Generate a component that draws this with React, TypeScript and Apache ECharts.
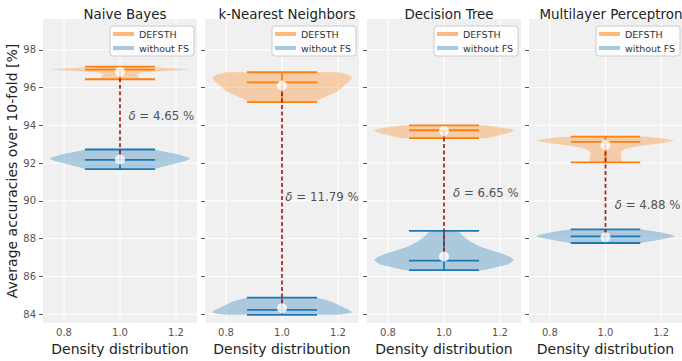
import React, { useEffect, useRef } from "react";
import * as echarts from "echarts";

const panelTitles = ["Naive Bayes", "k-Nearest Neighbors", "Decision Tree", "Multilayer Perceptron"];
const yTicks = [84, 86, 88, 90, 92, 94, 96, 98];
const xTicks = [0.8, 1.0, 1.2];
const seriesNames = ["DEFSTH", "without FS"];

// violin outlines: [accuracy, half-width of density]
const defsthProfiles: number[][][] = [
  [[97.11, 0.05], [97.06, 0.13], [97.0, 0.21], [96.95, 0.25], [96.9, 0.2], [96.85, 0.12], [96.8, 0.075], [96.72, 0.062], [96.62, 0.062], [96.52, 0.068], [96.44, 0.065]],
  [[96.81, 0.2], [96.7, 0.23], [96.55, 0.25], [96.4, 0.245], [96.2, 0.23], [96.0, 0.215], [95.8, 0.2], [95.6, 0.17], [95.45, 0.145], [95.23, 0.12]],
  [[94.0, 0.15], [93.9, 0.2], [93.8, 0.24], [93.72, 0.25], [93.6, 0.23], [93.45, 0.19], [93.32, 0.15]],
  [[93.4, 0.15], [93.3, 0.21], [93.18, 0.25], [93.05, 0.2], [92.95, 0.14], [92.85, 0.1], [92.75, 0.07], [92.6, 0.055], [92.4, 0.055], [92.2, 0.058], [92.04, 0.06]],
];
const withoutProfiles: number[][][] = [
  [[92.72, 0.12], [92.6, 0.16], [92.45, 0.21], [92.3, 0.245], [92.22, 0.25], [92.1, 0.23], [91.95, 0.19], [91.8, 0.15], [91.68, 0.12]],
  [[84.88, 0.12], [84.78, 0.15], [84.65, 0.18], [84.5, 0.2], [84.35, 0.22], [84.22, 0.24], [84.1, 0.25], [84.03, 0.23], [83.97, 0.2]],
  [[88.41, 0.05], [88.2, 0.065], [88.0, 0.08], [87.8, 0.1], [87.6, 0.125], [87.4, 0.165], [87.2, 0.21], [87.0, 0.24], [86.85, 0.25], [86.65, 0.23], [86.5, 0.19], [86.33, 0.14]],
  [[88.49, 0.13], [88.35, 0.19], [88.2, 0.24], [88.1, 0.25], [87.95, 0.2], [87.77, 0.125]],
];
// [min, median, max]
const defsthStats = [[96.44, 96.95, 97.11], [95.23, 96.28, 96.81], [93.32, 93.74, 94.0], [92.04, 93.12, 93.4]];
const withoutStats = [[91.68, 92.17, 92.72], [83.97, 84.23, 84.88], [86.33, 86.84, 88.41], [87.77, 88.12, 88.49]];
const defsthMeans = [96.84, 96.11, 93.7, 92.96];
const withoutMeans = [92.19, 84.32, 87.05, 88.08];
const deltas = ["4.65", "11.79", "6.65", "4.88"];
// where each delta annotation is anchored: [x, y]
const deltaLabelAt = [[1.03, 94.52], [1.012, 90.2], [1.032, 90.42], [1.033, 89.8]];

const ORANGE = "#ff7f0e";
const BLUE = "#1f77b4";
const FONT = "DejaVu Sans";

const panelLeft = [43, 205, 367, 529];
const panelWidth = 154;
const panelTop = 19;
const panelHeight = 306;

function violin(i: number, name: string, profile: number[][], fill: string) {
  return {
    type: "custom",
    name,
    xAxisIndex: i,
    yAxisIndex: i,
    z: 2,
    silent: true,
    itemStyle: { color: fill },
    data: [[1]],
    renderItem: (params: any, api: any) => {
      const pos = api.value(0);
      const pts: number[][] = [];
      for (const [v, w] of profile) pts.push(api.coord([pos + w, v]));
      for (let k = profile.length - 1; k >= 0; k--) pts.push(api.coord([pos - profile[k][1], profile[k][0]]));
      return { type: "polygon", shape: { points: pts }, style: { fill } };
    },
  };
}

function extrema(i: number, stats: number[], color: string) {
  return {
    type: "custom",
    xAxisIndex: i,
    yAxisIndex: i,
    z: 3,
    silent: true,
    data: [[1, ...stats]],
    renderItem: (params: any, api: any) => {
      const pos = api.value(0);
      const children: any[] = [];
      for (const d of [1, 2, 3]) {
        const v = api.value(d);
        const a = api.coord([pos - 0.125, v]);
        const b = api.coord([pos + 0.125, v]);
        children.push({ type: "line", shape: { x1: a[0], y1: a[1], x2: b[0], y2: b[1] }, style: { stroke: color, lineWidth: 1.8 } });
      }
      const lo = api.coord([pos, api.value(1)]);
      const hi = api.coord([pos, api.value(3)]);
      children.push({ type: "line", shape: { x1: lo[0], y1: lo[1], x2: hi[0], y2: hi[1] }, style: { stroke: color, lineWidth: 1.8 } });
      return { type: "group", children };
    },
  };
}

function gridLines(i: number) {
  return {
    type: "custom",
    xAxisIndex: i,
    yAxisIndex: i,
    z: 1,
    silent: true,
    data: [[0]],
    renderItem: (params: any, api: any) => {
      const children: any[] = [];
      for (const x of xTicks) {
        const a = api.coord([x, 83.53]);
        const b = api.coord([x, 99.63]);
        children.push({ type: "line", shape: { x1: a[0], y1: a[1], x2: b[0], y2: b[1] }, style: { stroke: "#ffffff", lineWidth: 1 } });
      }
      for (const y of yTicks) {
        const a = api.coord([0.725, y]);
        const b = api.coord([1.275, y]);
        children.push({ type: "line", shape: { x1: a[0], y1: a[1], x2: b[0], y2: b[1] }, style: { stroke: "#ffffff", lineWidth: 1 } });
      }
      return { type: "group", children };
    },
  };
}

export default function App() {
  const ref = useRef<HTMLDivElement>(null);
  useEffect(() => {
    if (!ref.current) return;
    const chart = echarts.init(ref.current, null, { renderer: "svg" });
    const grid = panelTitles.map((_, i) => ({
      left: panelLeft[i],
      top: panelTop,
      width: panelWidth,
      height: panelHeight,
      show: true,
      backgroundColor: "#f0f0f0",
      borderWidth: 0,
    }));
    const xAxis = panelTitles.map((_, i) => ({
      type: "value",
      gridIndex: i,
      min: 0.725,
      max: 1.275,
      axisLine: { show: false },
      axisTick: { show: false },
      splitLine: { show: false },
      axisLabel: {
        customValues: xTicks,
        formatter: (v: number) => v.toFixed(1),
        color: "#555",
        fontSize: 10,
        fontFamily: FONT,
        margin: 4,
      },
      name: "Density distribution",
      nameLocation: "middle",
      nameGap: 12,
      nameTextStyle: { fontSize: 14, fontFamily: FONT, color: "#222", verticalAlign: "top" },
    }));
    const yAxis = panelTitles.map((_, i) => ({
      type: "value",
      gridIndex: i,
      min: 83.53,
      max: 99.63,
      axisLine: { show: false },
      axisTick: { show: true, customValues: yTicks, length: 4, lineStyle: { color: "#555" } },
      splitLine: { show: false },
      axisLabel: {
        show: i === 0,
        customValues: yTicks,
        color: "#555",
        fontSize: 10,
        fontFamily: FONT,
        margin: 7,
      },
      name: i === 0 ? "Average accuracies over 10-fold [%]" : "",
      nameLocation: "middle",
      nameRotate: 90,
      nameGap: 23,
      nameTextStyle: { fontSize: 14, fontFamily: FONT, color: "#222" },
    }));
    const title = panelTitles.map((t, i) => ({
      text: t,
      left: panelLeft[i] + panelWidth / 2,
      textAlign: "center",
      top: 3,
      textStyle: { fontSize: 13.4, fontWeight: "normal", fontFamily: FONT, color: "#222" },
    }));
    const legend = panelTitles.map((_, i) => ({
      left: panelLeft[i] + panelWidth - 87,
      top: 26,
      orient: "vertical",
      icon: "rect",
      itemWidth: 21,
      itemHeight: 4,
      itemGap: 4,
      padding: [3, 5, 3, 3],
      backgroundColor: "rgba(255,255,255,0.85)",
      borderColor: "#cccccc",
      borderWidth: 1,
      borderRadius: 3,
      selectedMode: false,
      textStyle: { fontSize: 9.5, fontFamily: FONT, color: "#333" },
      data: [
        { name: seriesNames[0], itemStyle: { color: "rgba(255,127,14,0.55)" } },
        { name: seriesNames[1], itemStyle: { color: "rgba(31,119,180,0.4)" } },
      ],
    }));
    const series: any[] = [];
    panelTitles.forEach((_, i) => {
      series.push(gridLines(i));
      series.push(violin(i, seriesNames[0], defsthProfiles[i], "rgba(255,127,14,0.32)"));
      series.push(violin(i, seriesNames[1], withoutProfiles[i], "rgba(31,119,180,0.33)"));
      series.push(extrema(i, defsthStats[i], ORANGE));
      series.push(extrema(i, withoutStats[i], BLUE));
      series.push({
        type: "line",
        xAxisIndex: i,
        yAxisIndex: i,
        z: 4,
        silent: true,
        symbol: "none",
        data: [[1, defsthMeans[i]], [1, withoutMeans[i]]],
        lineStyle: { color: "#a52020", width: 1.7, type: [4, 2.5] },
      });
      series.push({
        type: "scatter",
        xAxisIndex: i,
        yAxisIndex: i,
        z: 5,
        silent: true,
        symbolSize: 10,
        itemStyle: { color: "#ffffff" },
        data: [[1, defsthMeans[i]], [1, withoutMeans[i]]],
      });
      series.push({
        type: "scatter",
        xAxisIndex: i,
        yAxisIndex: i,
        z: 5,
        silent: true,
        symbolSize: 0,
        data: [deltaLabelAt[i]],
        label: {
          show: true,
          position: "inside",
          align: "left",
          verticalAlign: "middle",
          formatter: `{i|δ} = ${deltas[i]} %`,
          fontSize: 11.8,
          fontFamily: FONT,
          color: "#222",
          rich: { i: { fontStyle: "italic", fontSize: 11.8, fontFamily: FONT, color: "#222" } },
        },
      });
    });
    chart.setOption({
      animation: false,
      textStyle: { fontFamily: FONT },
      title,
      legend,
      grid,
      xAxis,
      yAxis,
      series,
    });
    return () => chart.dispose();
  }, []);
  return <div ref={ref} style={{ position: "fixed", left: 0, top: 0, width: 682, height: 361, background: "#ffffff" }} />;
}
